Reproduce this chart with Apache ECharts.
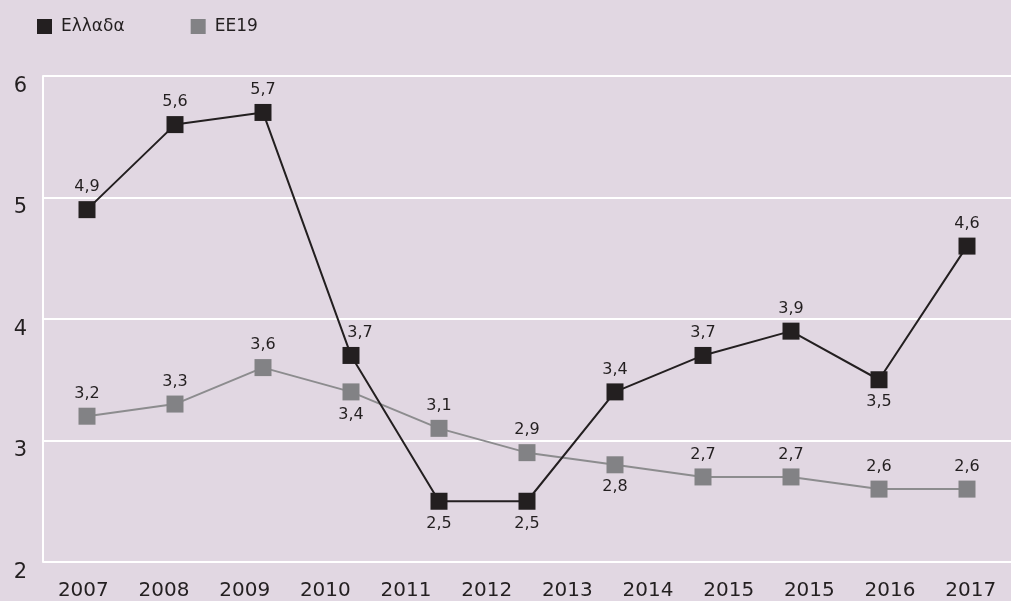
<!DOCTYPE html>
<html>
<head>
<meta charset="utf-8">
<script src="https://cdn.jsdelivr.net/npm/echarts@6/dist/echarts.min.js"></script>
<style>
  html, body { margin: 0; padding: 0; background: #e1d7e2; }
  #chart { width: 1011px; height: 601px; }
</style>
</head>
<body>
<div id="chart"></div>
<script>
// data points (one per year)
const years = ['2007', '2008', '2009', '2010', '2011', '2012', '2013', '2014', '2015', '2016', '2017']
// tick labels as printed under the axis (2015 appears twice in the original)
const yearLabels = ['2007', '2008', '2009', '2010', '2011', '2012', '2013', '2014', '2015', '2015', '2016', '2017']
const greece = [4.9, 5.6, 5.7, 3.7, 2.5, 2.5, 3.4, 3.7, 3.9, 3.5, 4.6]
const ee19 = [3.2, 3.3, 3.6, 3.4, 3.1, 2.9, 2.8, 2.7, 2.7, 2.6, 2.6]

// where each value label sits
const greecePos = ['top', 'top', 'top', 'top', 'bottom', 'bottom', 'top', 'top', 'top', 'bottom', 'top']
const ee19Pos = ['top', 'top', 'top', 'bottom', 'top', 'top', 'bottom', 'top', 'top', 'top', 'top']

const FONT = 'DejaVu Sans'
const TXT = '#231f20'

function fmt (p) {
  return String(p.value).replace('.', ',')
}

function withLabels (values, positions) {
  return values.map((v, i) => {
    const item = { value: v, label: { position: positions[i] } }
    // the 2010 label for Greece sits a bit to the right
    if (positions === greecePos && i === 3) item.label.offset = [9, 0]
    return item
  })
}

const chart = echarts.init(document.getElementById('chart'))
chart.setOption({
  backgroundColor: '#e1d7e2',
  textStyle: { fontFamily: FONT },
  animation: false,
  legend: {
    left: 32,
    top: 13,
    itemWidth: 15,
    itemHeight: 15,
    itemGap: 66,
    icon: 'rect',
    textStyle: { fontFamily: FONT, fontSize: 17, color: TXT, padding: [0, 0, 0, 4] },
    data: ['Ελλαδα', 'ΕΕ19']
  },
  grid: {
    left: 43,
    right: -1,
    top: 76,
    bottom: 38
  },
  xAxis: [
    {
      type: 'category',
      data: years,
      position: 'bottom',
      axisLine: { show: false },
      axisTick: { show: false },
      axisLabel: { show: false }
    },
    {
      type: 'category',
      data: yearLabels,
      position: 'bottom',
      axisLine: { show: false },
      axisTick: { show: false },
      axisLabel: { fontFamily: FONT, fontSize: 20, color: TXT, margin: 19 }
    }
  ],
  yAxis: {
    type: 'value',
    min: 2,
    max: 6,
    interval: 1,
    axisLine: { show: true, lineStyle: { color: '#ffffff', width: 2 } },
    axisTick: { show: false },
    splitLine: { lineStyle: { color: '#ffffff', width: 2 } },
    axisLabel: {
      fontFamily: FONT,
      fontSize: 21,
      color: TXT,
      margin: 16,
      verticalAlign: 'top'
    }
  },
  series: [
    {
      name: 'ΕΕ19',
      type: 'line',
      xAxisIndex: 0,
      data: withLabels(ee19, ee19Pos),
      symbol: 'rect',
      symbolSize: 17,
      itemStyle: { color: '#828285' },
      lineStyle: { color: '#8c8c8e', width: 2 },
      label: {
        show: true,
        formatter: fmt,
        fontFamily: FONT,
        fontSize: 16,
        color: TXT,
        distance: 6
      },
      z: 2
    },
    {
      name: 'Ελλαδα',
      type: 'line',
      xAxisIndex: 0,
      data: withLabels(greece, greecePos),
      symbol: 'rect',
      symbolSize: 17,
      itemStyle: { color: '#231f20' },
      lineStyle: { color: '#231f20', width: 2 },
      label: {
        show: true,
        formatter: fmt,
        fontFamily: FONT,
        fontSize: 16,
        color: TXT,
        distance: 6
      },
      z: 3
    }
  ]
})
</script>
</body>
</html>
